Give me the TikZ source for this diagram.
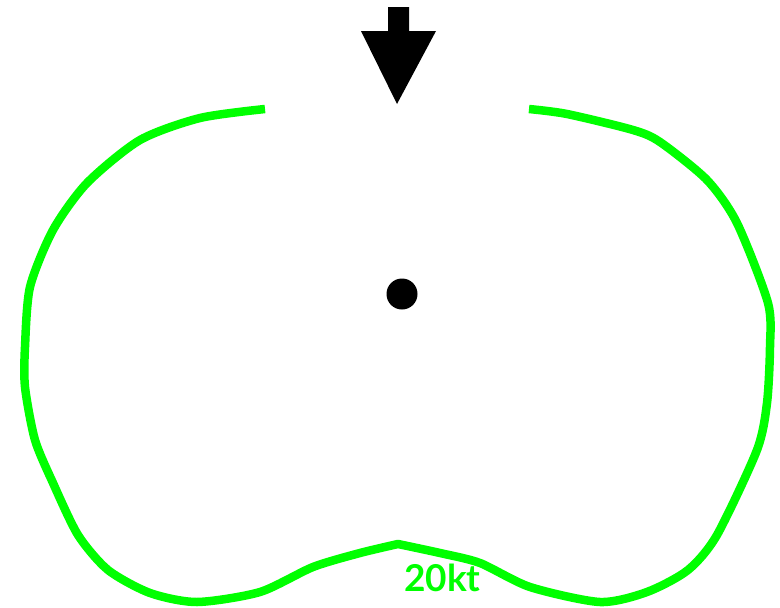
\documentclass[tikz,border=0pt]{standalone}
\usepackage{fontspec}
\newfontfamily\labelfont{Lato}
\definecolor{polargreen}{RGB}{0,255,0}
\begin{document}
\begin{tikzpicture}[x=1pt,y=-1pt,
  polarline/.style={draw=polargreen,line width=8.5pt,line join=round,line cap=butt},
  windarrow/.style={fill=black,draw=none},
  hubdot/.style={circle,fill=black,inner sep=0pt,minimum size=31pt},
  speedlabel/.style={text=polargreen,font=\labelfont\bfseries\fontsize{37}{37}\selectfont,inner sep=0pt,anchor=base west}]
\useasboundingbox (0,0) rectangle (780,608);
% polar curve, two smooth halves joined at the downwind cusp
\draw[polarline] plot[smooth,tension=0.45] coordinates {(265,109) (200,118) (140,140) (87,183) (53,230) (30,287) (25,347)
  (25,387) (35,440) (53,483) (78,535) (108,570) (150,593) (197,602)
  (260,592) (313,567) (360,553) (398,544)}
  -- plot[smooth,tension=0.45] coordinates {(398,544)
  (440,553) (480,563) (530,587) (600,602) (647,592) (688,570) (717,535)
  (757,450) (767,403) (770,347) (768,303) (737,223)
  (707,180) (660,142) (633,130) (567,114) (529,109)};
% wind arrow
\draw[windarrow] (388,7) -- (409,7) -- (409,31) -- (436,31) -- (397,104) -- (361,31) -- (388,31) -- cycle;
% centre dot
\node[hubdot] (hub) at (402,294) {};
% label
\node[speedlabel] (spd) at (404,591) {20kt};
\end{tikzpicture}
\end{document}
